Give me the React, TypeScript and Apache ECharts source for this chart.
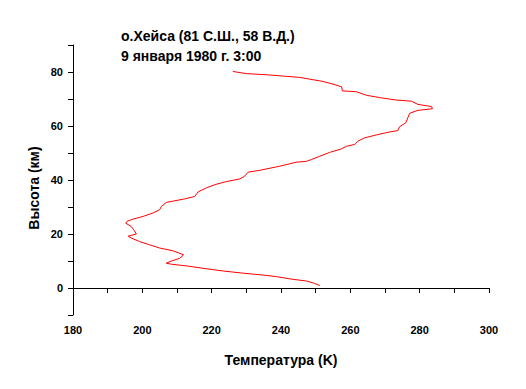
import React, { useEffect, useRef } from "react";
import * as echarts from "echarts";

const temperature = [
  226.1, 230.0, 236.7, 245.4, 252.1, 255.0, 257.5, 257.7, 261.7, 264.6, 268.5, 273.3,
  277.6, 279.5, 283.4, 283.7, 279.5, 277.1, 276.6, 276.0, 274.2, 273.7, 271.3, 267.5,
  264.1, 262.2, 261.3, 258.9, 257.4, 254.0, 251.2, 248.8, 247.3, 244.4, 239.6, 233.9,
  230.5, 229.5, 228.1, 224.2, 221.0, 218.5, 216.1, 215.1, 212.2, 206.9, 205.5, 205.0,
  203.1, 200.2, 197.3, 195.6, 195.2, 196.8, 197.5, 198.3, 196.8, 195.9, 196.8, 199.2,
  202.1, 205.0, 208.8, 211.9, 210.8, 208.4, 206.9, 208.4, 212.7, 217.5, 223.3, 229.0,
  234.8, 238.7, 243.5, 247.3, 249.7, 251.2,
];
const altitude = [
  80.2, 79.4, 78.9, 78.0, 76.5, 75.5, 74.5, 73.0, 72.7, 71.4, 70.5, 69.6,
  69.2, 68.0, 67.2, 66.4, 65.8, 64.7, 63.1, 61.2, 59.7, 58.3, 57.8, 56.7,
  55.6, 54.4, 53.2, 52.5, 51.5, 50.2, 48.8, 47.6, 46.9, 46.6, 45.1, 43.6,
  42.9, 41.4, 40.4, 39.4, 38.3, 37.1, 35.6, 33.9, 33.0, 31.7, 30.2, 29.0,
  27.8, 26.5, 25.5, 24.7, 24.0, 22.8, 21.6, 20.0, 19.5, 19.2, 18.5, 17.2,
  16.0, 14.8, 13.8, 12.3, 11.0, 10.0, 9.2, 8.8, 8.2, 7.3, 6.3, 5.5,
  4.8, 4.2, 3.2, 2.6, 1.7, 0.9,
];
const titleLines = ["о.Хейса (81 С.Ш., 58 В.Д.)", "9 января 1980 г. 3:00"];
const xName = "Температура (K)";
const yName = "Высота (км)";
const xRange = [180, 300];
const yRange = [-10, 90];

const FONT = "'Liberation Sans', Arial, sans-serif";

export default function App() {
  const ref = useRef<HTMLDivElement>(null);
  useEffect(() => {
    if (!ref.current) return;
    const chart = echarts.init(ref.current, null, { renderer: "svg" });
    const data = temperature.map((t, i) => [t, altitude[i]]);
    const axisCommon = {
      axisLine: { show: true, lineStyle: { color: "#000", width: 1 } },
      axisTick: { show: true, inside: false, length: 5, lineStyle: { color: "#000" } },
      splitLine: { show: false },
    };
    chart.setOption({
      animation: false,
      backgroundColor: "#fff",
      grid: { left: 73, right: 37, top: 45, bottom: 74, containLabel: false },
      xAxis: {
        type: "value",
        min: xRange[0],
        max: xRange[1],
        interval: 10,
        name: xName,
        nameLocation: "middle",
        nameGap: 38,
        nameTextStyle: { fontFamily: FONT, fontWeight: "bold", fontSize: 14, color: "#000" },
        ...axisCommon,
        axisLabel: {
          margin: 9,
          fontFamily: FONT,
          fontWeight: "bold",
          fontSize: 11,
          color: "#000",
          formatter: (v: number) => (v % 20 === 0 ? String(v) : ""),
        },
      },
      yAxis: {
        type: "value",
        min: yRange[0],
        max: yRange[1],
        interval: 10,
        ...axisCommon,
        axisLabel: {
          margin: 10,
          fontFamily: FONT,
          fontWeight: "bold",
          fontSize: 11,
          color: "#000",
          formatter: (v: number) => (v % 20 === 0 && v >= 0 && v <= 80 ? String(v) : ""),
        },
      },
      graphic: [
        {
          type: "text",
          left: 121,
          top: 29,
          style: { text: titleLines[0], font: `bold 14px ${FONT}`, fill: "#000" },
        },
        {
          type: "text",
          left: 121,
          top: 49,
          style: { text: titleLines[1], font: `bold 14px ${FONT}`, fill: "#000" },
        },
        {
          type: "text",
          x: 34,
          y: 188,
          rotation: Math.PI / 2,
          style: {
            text: yName,
            font: `bold 14px ${FONT}`,
            fill: "#000",
            align: "center",
            verticalAlign: "middle",
          },
        },
      ],
      series: [
        {
          type: "line",
          data,
          showSymbol: false,
          symbol: "none",
          lineStyle: { color: "#ff0000", width: 1 },
          clip: false,
        },
      ],
    });
    return () => chart.dispose();
  }, []);
  return <div ref={ref} style={{ width: 526, height: 389, margin: -8 }} />;
}
